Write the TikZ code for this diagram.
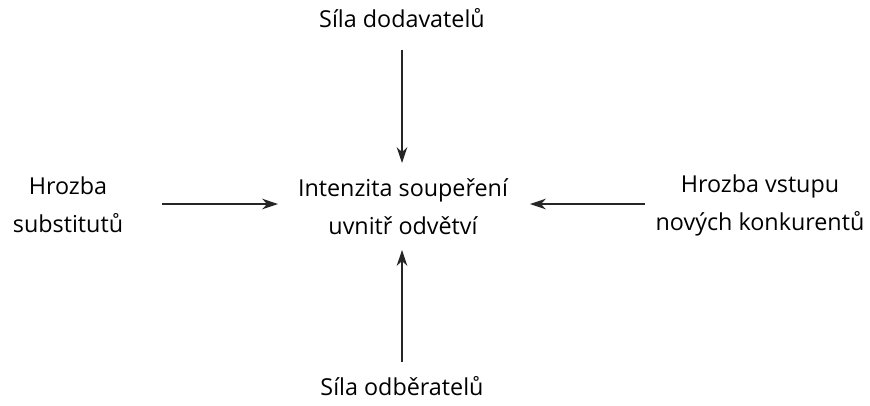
\documentclass[tikz,border=0pt]{standalone}
\usepackage{fontspec}
\setmainfont{Open Sans}
\usetikzlibrary{arrows.meta}
\begin{document}
\begin{tikzpicture}[x=0.75pt,y=-0.75pt,
  label text/.style={align=center, inner sep=0pt, font=\fontsize{17.5}{28.5}\selectfont},
  force/.style={-{Stealth[length=12pt,width=8pt]}, line width=0.8pt, draw=black!85}]
  \useasboundingbox (0,0) rectangle (870,405);
  % central node and the four forces around it
  \node[label text] (rivalry) at (403,207) {Intenzita soupeření\\uvnitř odvětví};
  \node[label text] (suppliers) at (402,18) {Síla dodavatelů};
  \node[label text] (buyers) at (402,386) {Síla odběratelů};
  \node[label text] (substitutes) at (68,205) {Hrozba\\substitutů};
  \node[label text] (entrants) at (760,205) {Hrozba vstupu\\nových konkurentů};
  % arrows pointing towards the centre
  \coordinate (tTop) at (402,163);
  \coordinate (tBot) at (402,250);
  \coordinate (tLeft) at (278,204);
  \coordinate (tRight) at (530,204);
  \draw[force] (suppliers.south |- 0,50) -- (tTop);
  \draw[force] (buyers.north |- 0,362) -- (tBot);
  \draw[force] (162,204) coordinate (sLeft) -- (tLeft);
  \draw[force] (645,204) coordinate (sRight) -- (tRight);
\end{tikzpicture}
\end{document}
